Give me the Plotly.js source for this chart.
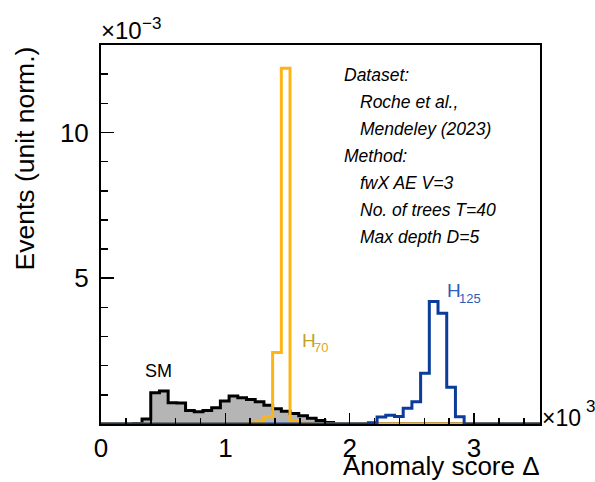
<!DOCTYPE html>
<html>
<head>
<meta charset="utf-8">
<script src="https://cdn.plot.ly/plotly-3.0.1.min.js"></script>
<style>html,body{margin:0;padding:0;background:#fff;}#chart{width:595px;height:482px;}</style>
</head>
<body>
<div id="chart"></div>
<script>
// Histogram binning (anomaly score in units of 10^3)
const firstEdge = -0.02;
const binWidth = 0.07;
// Bin contents (units of 10^-3), one value per bin, bins 0..50
const smValues = [
  0, 0, 0, 0, 0.02, 0.17, 1.07, 1.13, 0.73, 0.72,
  0.46, 0.42, 0.46, 0.56, 0.79, 0.96, 0.90, 0.84, 0.76, 0.64,
  0.52, 0.44, 0.36, 0.28, 0.20, 0.12, 0.05, 0, 0, 0,
  0, 0, 0, 0, 0, 0, 0, 0, 0, 0,
  0, 0, 0, 0, 0, 0, 0, 0, 0, 0, 0
];
const h70Values = [
  0, 0, 0, 0, 0, 0, 0, 0, 0, 0,
  0, 0, 0, 0, 0, 0, 0, 0.02, 0.08, 0.25,
  2.45, 12.2, 0.10, 0.02, 0, 0, 0, 0, 0, 0,
  0, 0, 0, 0, 0, 0, 0, 0, 0, 0,
  0, 0, 0, 0, 0, 0, 0, 0, 0, 0, 0
];
const h125Values = [
  0, 0, 0, 0, 0, 0, 0, 0, 0, 0,
  0, 0, 0, 0, 0, 0, 0, 0, 0, 0,
  0, 0, 0, 0, 0, 0, 0, 0, 0, 0,
  0, 0.04, 0.24, 0.30, 0.26, 0.54, 0.76, 1.74, 4.20, 3.80,
  1.26, 0.25, 0, 0, 0, 0, 0, 0, 0, 0, 0
];
const xTickVals = [0, 1, 2, 3];
const yTickVals = [0, 5, 10];
const yTickText = ['', '5', '10'];
const infoLines = [
  {text: 'Dataset:', indent: 0},
  {text: 'Roche et al.,', indent: 1},
  {text: 'Mendeley (2023)', indent: 1},
  {text: 'Method:', indent: 0},
  {text: 'fwX AE V=3', indent: 1},
  {text: 'No. of trees T=40', indent: 1},
  {text: 'Max depth D=5', indent: 1}
];

const edges = smValues.map((_, i) => firstEdge + i * binWidth).concat([firstEdge + smValues.length * binWidth]);
function stepY(vals) { return vals.concat([vals[vals.length - 1]]); }

const FONT = 'Liberation Sans, Arial, Helvetica, sans-serif';
const L = 101, R = 540, T = 45, B = 424;
const W = R - L, H = B - T;
const px = v => (v - L) / W;
const py = v => (B - v) / H;

const traces = [
  {x: edges, y: stepY(smValues), type: 'scatter', mode: 'lines',
   line: {shape: 'hv', color: '#000000', width: 3}, fill: 'tozeroy', fillcolor: '#b5b5b5',
   hoverinfo: 'skip', showlegend: false},
  {x: edges, y: stepY(h70Values), type: 'scatter', mode: 'lines',
   line: {shape: 'hv', color: '#fdb515', width: 3}, hoverinfo: 'skip', showlegend: false},
  {x: edges, y: stepY(h125Values), type: 'scatter', mode: 'lines',
   line: {shape: 'hv', color: '#0b3c99', width: 3}, hoverinfo: 'skip', showlegend: false}
];

const ann = [];
function add(text, x, y, opts) {
  ann.push(Object.assign({text: text, x: px(x), y: py(y), xref: 'paper', yref: 'paper',
    showarrow: false, xanchor: 'left', yanchor: 'middle',
    font: {family: FONT, size: 17, color: '#000'}}, opts || {}));
}
add('×10', 99, 31, {font: {family: FONT, size: 24, color: '#000'}});
add('−3', 140, 23, {font: {family: FONT, size: 17, color: '#000'}});
add('×10', 540, 418, {font: {family: FONT, size: 23, color: '#000'}});
add('3', 584, 406, {font: {family: FONT, size: 17, color: '#000'}});
add('Events (unit norm.)', 24.5, 45, {textangle: -90, xanchor: 'center', yanchor: 'top',
  font: {family: FONT, size: 26.5, color: '#000'}});
add('Anomaly score Δ', 541, 482, {xanchor: 'right', yanchor: 'bottom', borderpad: 0,
  font: {family: FONT, size: 26, color: '#000'}});
add('SM', 158, 371, {xanchor: 'center', font: {family: FONT, size: 18, color: '#000'}});
add('H', 300, 340, {font: {family: FONT, size: 19, color: '#c49f2a'}});
add('70', 312, 347, {font: {family: FONT, size: 13, color: '#e0a820'}});
add('H', 445, 290, {font: {family: FONT, size: 19, color: '#2a5cb8'}});
add('125', 457, 298, {font: {family: FONT, size: 13, color: '#2a5cb8'}});
infoLines.forEach((ln, i) => {
  add('<i>' + ln.text + '</i>', ln.indent ? 358 : 342, 75 + i * 27,
    {font: {family: FONT, size: 17.5, color: '#000'}});
});

const layout = {
  width: 595, height: 482,
  margin: {l: L, r: 595 - R, t: T, b: 482 - B, pad: 0},
  paper_bgcolor: '#fff', plot_bgcolor: '#fff',
  showlegend: false,
  xaxis: {range: [0, 3.53], tickmode: 'array', tickvals: xTickVals, ticks: 'inside', ticklen: 11,
    tickwidth: 1.5, tickcolor: '#000', showline: true, linecolor: '#000', linewidth: 2, mirror: true,
    showgrid: false, zeroline: false, ticklabelstandoff: 0, tickfont: {family: FONT, size: 26, color: '#000'},
    minor: {tickmode: 'linear', tick0: 0, dtick: 0.2, ticks: 'inside', ticklen: 6, tickwidth: 1.5, tickcolor: '#000', showgrid: false}},
  yaxis: {range: [0, 13], tickmode: 'array', tickvals: yTickVals, ticktext: yTickText, ticks: 'inside', ticklen: 13,
    tickwidth: 1.5, tickcolor: '#000', showline: true, linecolor: '#000', linewidth: 2, mirror: true,
    showgrid: false, zeroline: false, ticklabelstandoff: 5, tickfont: {family: FONT, size: 26, color: '#000'},
    minor: {tickmode: 'linear', tick0: 0, dtick: 1, ticks: 'inside', ticklen: 7, tickwidth: 1.5, tickcolor: '#000', showgrid: false}},
  annotations: ann
};
Plotly.newPlot('chart', traces, layout, {displayModeBar: false, staticPlot: true});
</script>
</body>
</html>
